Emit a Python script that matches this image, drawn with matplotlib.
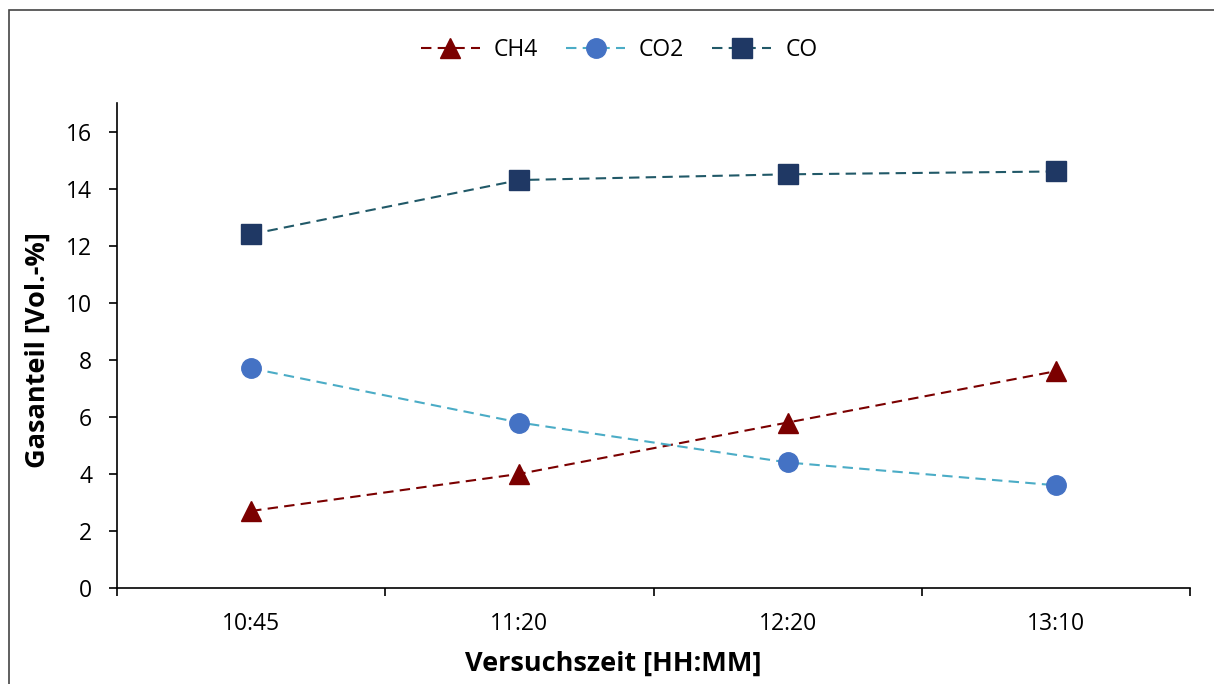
'''
Gas fractions over test time
'''

import matplotlib.pyplot as plt
from matplotlib.patches import Rectangle

######################################

times=['10:45','11:20','12:20','13:10']
ch4=[2.7,4.0,5.8,7.6]
co2=[7.7,5.8,4.4,3.6]
co=[12.4,14.3,14.5,14.6]

######################################

plt.rcParams['font.family']=['Open Sans','DejaVu Sans']

fig=plt.figure(figsize=(12.14,6.84),dpi=100)
ax=fig.add_axes([117/1214,1-588/684,(1190-117)/1214,(588-103)/684])

x=list(range(len(times)))
dash=(0,(5,3))

# one dashed line per gas
ax.plot(x,ch4,color='#7B0000',linestyle=dash,lw=1.5,marker='^',ms=14,
        mfc='#7B0000',mec='#7B0000',label='CH4')
ax.plot(x,co2,color='#4BACC6',linestyle=dash,lw=1.5,marker='o',ms=14,
        mfc='#4472C4',mec='#4472C4',label='CO2')
ax.plot(x,co,color='#215968',linestyle=dash,lw=1.5,marker='s',ms=14,
        mfc='#1F3864',mec='#1F3864',label='CO')

ax.set_xlim(-0.5,3.5)
ax.set_ylim(0,17)
ax.set_yticks(range(0,17,2))
ax.set_xticks(x)
ax.set_xticklabels(times)
ax.set_xticks([-0.5,0.5,1.5,2.5,3.5],minor=True)
ax.tick_params(axis='x',which='major',length=0,pad=17,labelsize=16.5)
ax.tick_params(axis='x',which='minor',length=6,width=1.2,direction='out')
ax.tick_params(axis='y',length=6,width=1.2,direction='out',labelsize=16.5,pad=12)

for s in ['top','right']:
  ax.spines[s].set_visible(False)
for s in ['left','bottom']:
  ax.spines[s].set_linewidth(1.2)

# axis titles centred on the chart area
fig.text(613/1214,1-664/684,'Versuchszeit [HH:MM]',fontsize=19.5,fontweight='bold',
         ha='center',va='center')
fig.text(38/1214,1-350/684,'Gasanteil [Vol.-%]',fontsize=19.5,fontweight='bold',
         ha='center',va='center',rotation=90)

fig.legend(loc='center',bbox_to_anchor=(619/1214,1-50/684),ncol=3,frameon=False,
           fontsize=16.5,handlelength=2.6,columnspacing=1.2,handletextpad=0.6)

# chart area frame
fig.patches.append(Rectangle((9/1214,-0.05),1.1,1-10/684+0.05,transform=fig.transFigure,
                             fill=False,edgecolor='#444444',lw=1.2))

fig.savefig('out.png',dpi=100)
